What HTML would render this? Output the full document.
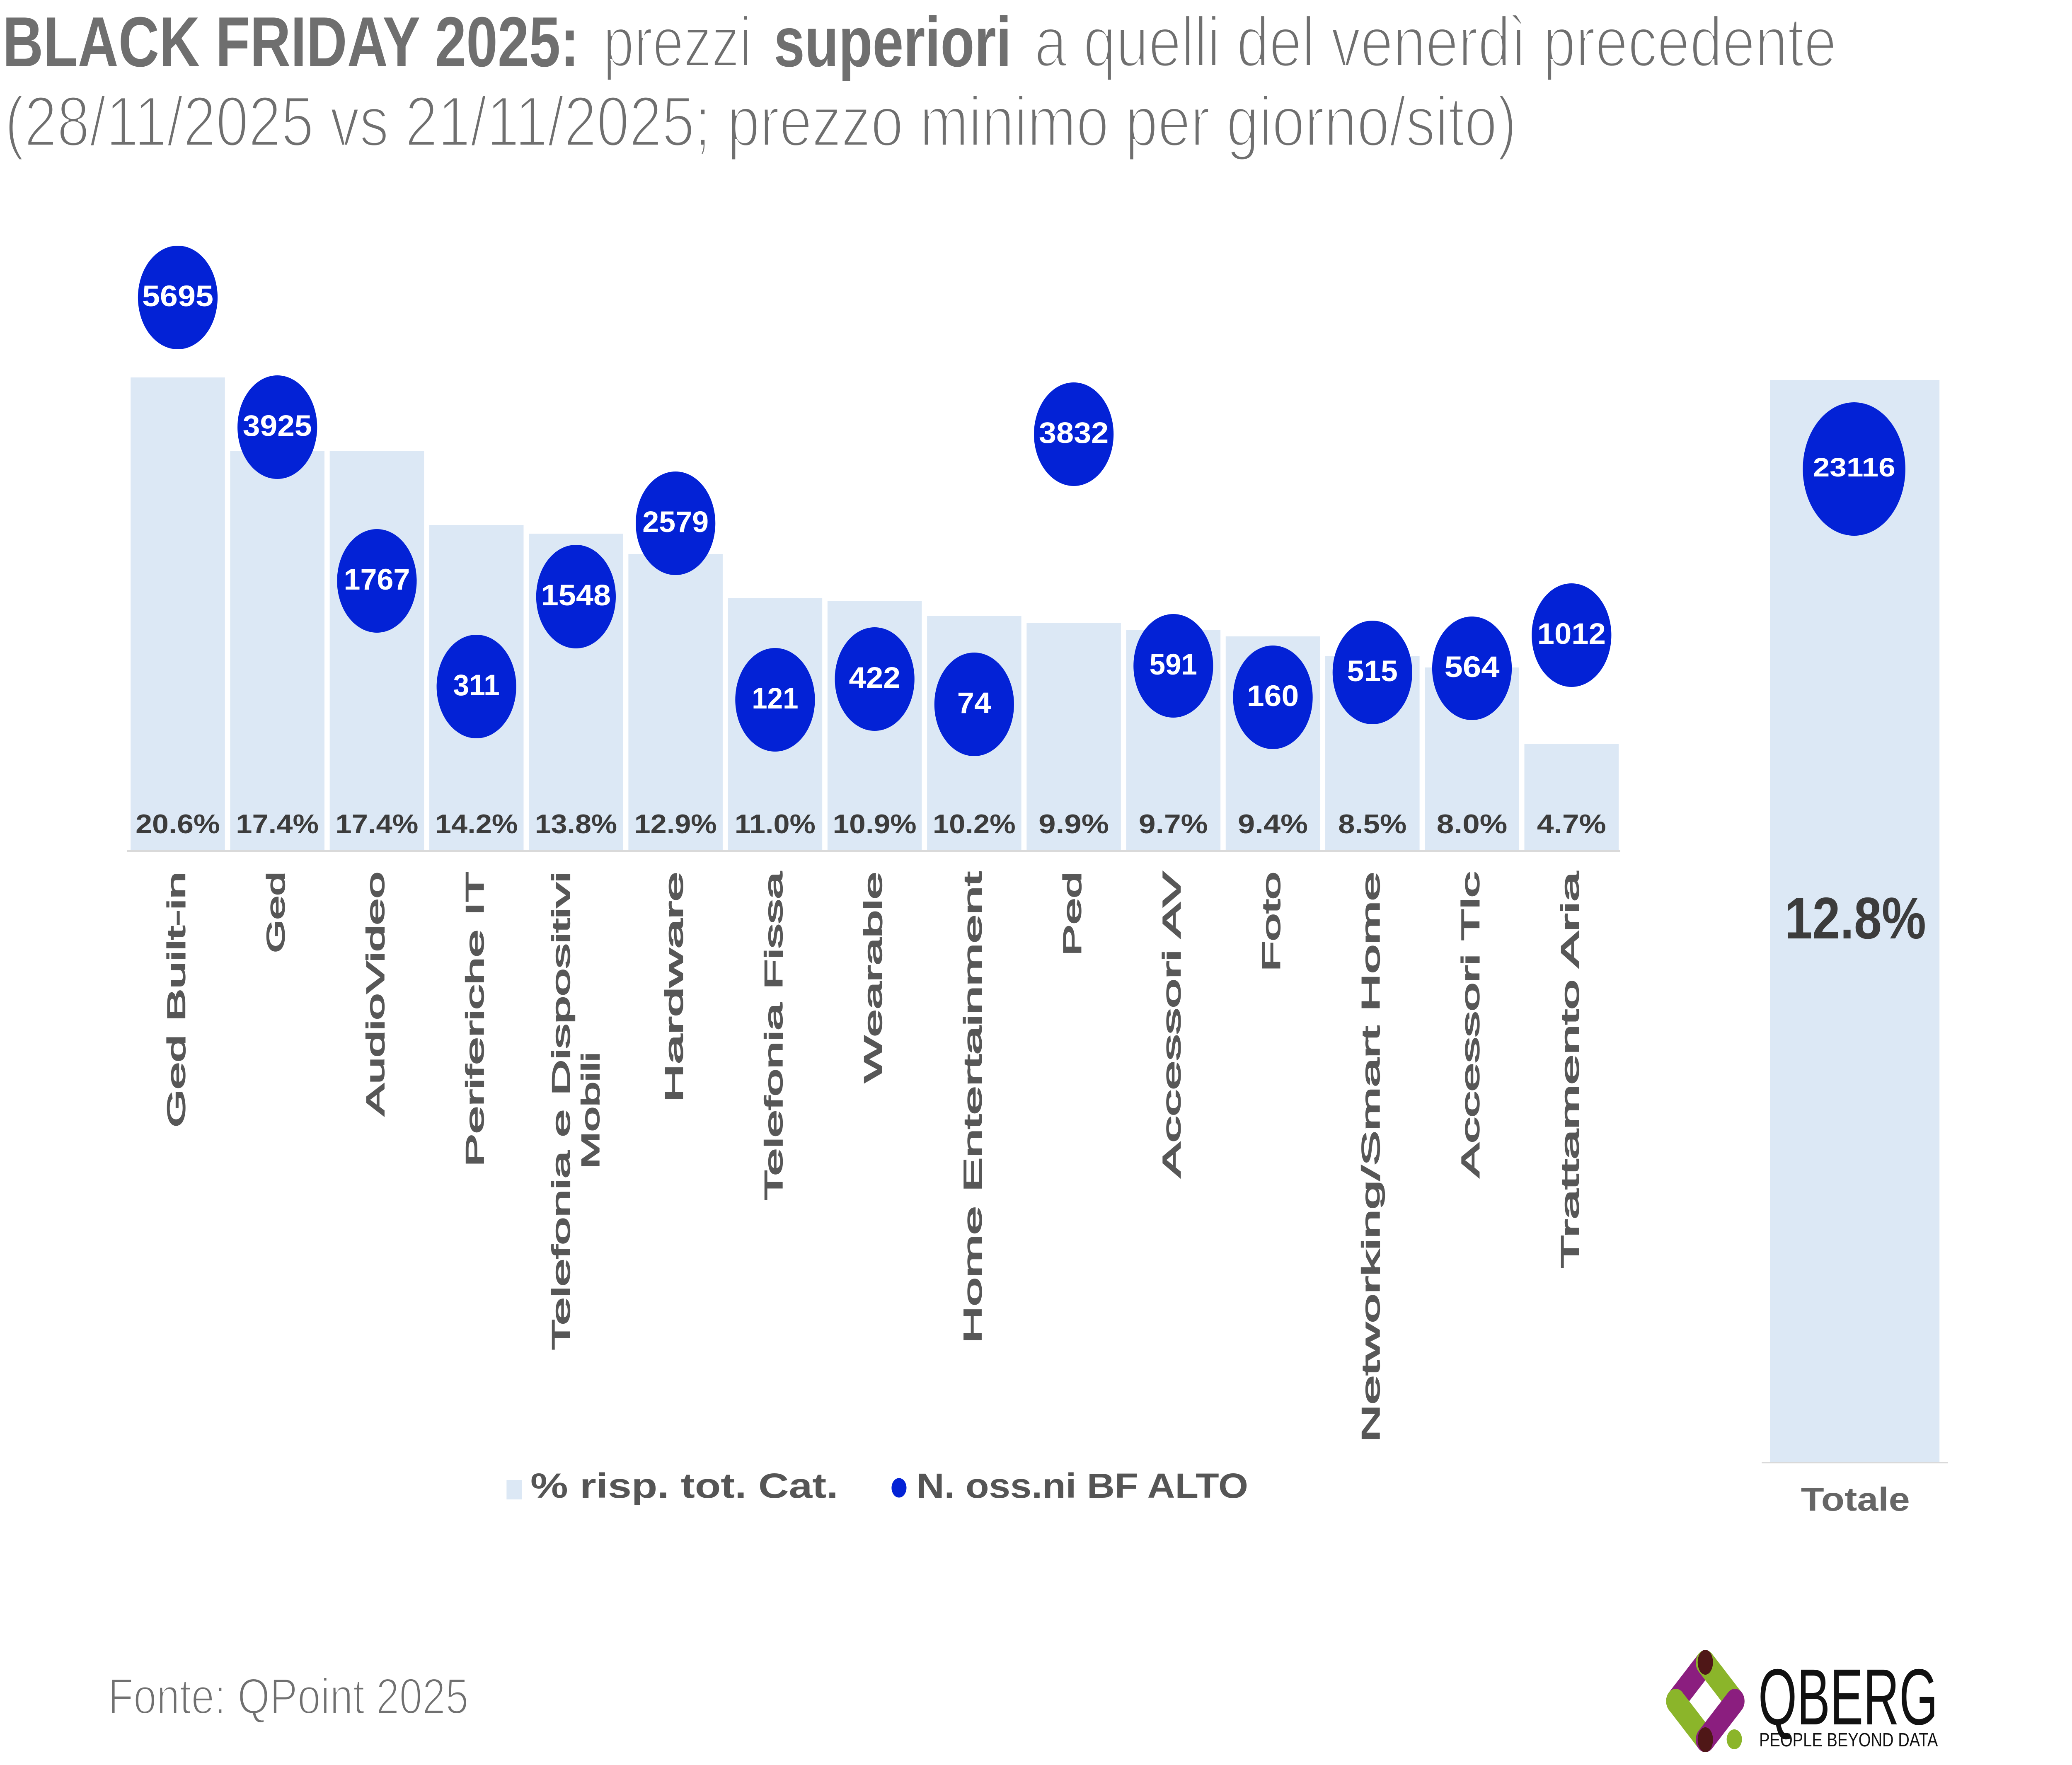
<!DOCTYPE html>
<html>
<head>
<meta charset="utf-8">
<style>
  html, body { margin: 0; padding: 0; background: #ffffff; overflow: hidden; width: 100%; height: 100%; }
  svg { display: block; width: 100vw; height: 100vh; }
</style>
</head>
<body>
<svg viewBox="0 0 6504 4260" preserveAspectRatio="none" xmlns="http://www.w3.org/2000/svg" font-family="'Liberation Sans', sans-serif">
  <rect x="0" y="0" width="6504" height="4260" fill="#ffffff"/>

  <!-- Title -->
  <g fill="#6f6f6f" font-size="171">
    <text x="8" y="160" font-weight="bold" textLength="1810" lengthAdjust="spacingAndGlyphs">BLACK FRIDAY 2025:</text>
    <text x="1893" y="160" stroke="#ffffff" stroke-width="6" textLength="467" lengthAdjust="spacingAndGlyphs">prezzi</text>
    <text x="2429" y="160" font-weight="bold" textLength="746" lengthAdjust="spacingAndGlyphs">superiori</text>
    <text x="3247" y="160" stroke="#ffffff" stroke-width="6" textLength="2518" lengthAdjust="spacingAndGlyphs">a quelli del venerdì precedente</text>
    <text x="15" y="352" stroke="#ffffff" stroke-width="6" textLength="4746" lengthAdjust="spacingAndGlyphs">(28/11/2025 vs 21/11/2025; prezzo minimo per giorno/sito)</text>
  </g>

  <!-- Bars -->
  <g fill="#dce8f5">
    <rect x="410" y="911" width="296" height="1140"/>
    <rect x="722.5" y="1089" width="296" height="962"/>
    <rect x="1035" y="1089" width="296" height="962"/>
    <rect x="1347.5" y="1267" width="296" height="784"/>
    <rect x="1660" y="1288" width="296" height="763"/>
    <rect x="1972.5" y="1337" width="296" height="714"/>
    <rect x="2285" y="1444" width="296" height="607"/>
    <rect x="2597.5" y="1450" width="296" height="601"/>
    <rect x="2910" y="1487" width="296" height="564"/>
    <rect x="3222.5" y="1504" width="296" height="547"/>
    <rect x="3535" y="1520" width="296" height="531"/>
    <rect x="3847.5" y="1536" width="296" height="515"/>
    <rect x="4160" y="1584" width="296" height="467"/>
    <rect x="4472.5" y="1611" width="296" height="440"/>
    <rect x="4785" y="1795" width="296" height="256"/>
    <!-- Totale -->
    <rect x="5556" y="917" width="532" height="2611"/>
  </g>

  <!-- Axis lines -->
  <rect x="399" y="2052" width="4687" height="5" fill="#d9d9d9"/>
  <rect x="5530" y="3528" width="585" height="4" fill="#d9d9d9"/>

  <!-- Percent labels -->
  <g fill="#3c3c3c" font-size="65" font-weight="bold">
    <text x="425.5" y="2011" textLength="265" lengthAdjust="spacingAndGlyphs">20.6%</text>
    <text x="740.5" y="2011" textLength="260" lengthAdjust="spacingAndGlyphs">17.4%</text>
    <text x="1053" y="2011" textLength="260" lengthAdjust="spacingAndGlyphs">17.4%</text>
    <text x="1365.5" y="2011" textLength="260" lengthAdjust="spacingAndGlyphs">14.2%</text>
    <text x="1679" y="2011" textLength="258" lengthAdjust="spacingAndGlyphs">13.8%</text>
    <text x="1991" y="2011" textLength="259" lengthAdjust="spacingAndGlyphs">12.9%</text>
    <text x="2306" y="2011" textLength="254" lengthAdjust="spacingAndGlyphs">11.0%</text>
    <text x="2614" y="2011" textLength="263" lengthAdjust="spacingAndGlyphs">10.9%</text>
    <text x="2928" y="2011" textLength="260" lengthAdjust="spacingAndGlyphs">10.2%</text>
    <text x="3260" y="2011" textLength="221" lengthAdjust="spacingAndGlyphs">9.9%</text>
    <text x="3574.5" y="2011" textLength="217" lengthAdjust="spacingAndGlyphs">9.7%</text>
    <text x="3885.5" y="2011" textLength="220" lengthAdjust="spacingAndGlyphs">9.4%</text>
    <text x="4200.5" y="2011" textLength="215" lengthAdjust="spacingAndGlyphs">8.5%</text>
    <text x="4509.5" y="2011" textLength="222" lengthAdjust="spacingAndGlyphs">8.0%</text>
    <text x="4824.5" y="2011" textLength="217" lengthAdjust="spacingAndGlyphs">4.7%</text>
  </g>

  <!-- Bubbles -->
  <g fill="#0322d6">
    <circle cx="558" cy="718" r="125"/>
    <circle cx="870.5" cy="1031" r="125"/>
    <circle cx="1183" cy="1402" r="125"/>
    <circle cx="1495.5" cy="1657" r="125"/>
    <circle cx="1808" cy="1440" r="125"/>
    <circle cx="2120.5" cy="1263" r="125"/>
    <circle cx="2433" cy="1689" r="125"/>
    <circle cx="2745.5" cy="1639" r="125"/>
    <circle cx="3058" cy="1700" r="125"/>
    <circle cx="3370.5" cy="1048" r="125"/>
    <circle cx="3683" cy="1607" r="125"/>
    <circle cx="3995.5" cy="1683" r="125"/>
    <circle cx="4308" cy="1623" r="125"/>
    <circle cx="4620.5" cy="1613" r="125"/>
    <circle cx="4933" cy="1533" r="125"/>
    <circle cx="5820" cy="1132" r="161"/>
  </g>

  <!-- Bubble numbers -->
  <g fill="#ffffff" font-size="71" font-weight="bold">
    <text x="446" y="739" textLength="224" lengthAdjust="spacingAndGlyphs">5695</text>
    <text x="762" y="1052" textLength="217" lengthAdjust="spacingAndGlyphs">3925</text>
    <text x="1079" y="1423" textLength="208" lengthAdjust="spacingAndGlyphs">1767</text>
    <text x="1422.5" y="1678" textLength="146" lengthAdjust="spacingAndGlyphs">311</text>
    <text x="1698.5" y="1461" textLength="219" lengthAdjust="spacingAndGlyphs">1548</text>
    <text x="2016.5" y="1284" textLength="208" lengthAdjust="spacingAndGlyphs">2579</text>
    <text x="2360" y="1710" textLength="146" lengthAdjust="spacingAndGlyphs">121</text>
    <text x="2664.5" y="1660" textLength="162" lengthAdjust="spacingAndGlyphs">422</text>
    <text x="3004.5" y="1721" textLength="107" lengthAdjust="spacingAndGlyphs">74</text>
    <text x="3261" y="1069" textLength="219" lengthAdjust="spacingAndGlyphs">3832</text>
    <text x="3608" y="1628" textLength="150" lengthAdjust="spacingAndGlyphs">591</text>
    <text x="3914" y="1704" textLength="163" lengthAdjust="spacingAndGlyphs">160</text>
    <text x="4228.5" y="1644" textLength="159" lengthAdjust="spacingAndGlyphs">515</text>
    <text x="4534" y="1634" textLength="173" lengthAdjust="spacingAndGlyphs">564</text>
    <text x="4825.5" y="1554" textLength="215" lengthAdjust="spacingAndGlyphs">1012</text>
    <text x="5690.5" y="1150" font-size="64" textLength="259" lengthAdjust="spacingAndGlyphs">23116</text>
  </g>

  <!-- Totale labels -->
  <text x="5602" y="2265" font-size="142" font-weight="bold" fill="#3c3c3c" textLength="444" lengthAdjust="spacingAndGlyphs">12.8%</text>
  <text x="5653" y="3646" font-size="80" font-weight="bold" fill="#666666" textLength="342" lengthAdjust="spacingAndGlyphs">Totale</text>

  <!-- Category labels (rotated) -->
  <g fill="#575757" stroke="#575757" stroke-width="3" font-size="78">
    <text transform="translate(580,2104) rotate(-90)" x="-617" y="0" textLength="617" lengthAdjust="spacingAndGlyphs">Ged Built-in</text>
    <text transform="translate(892.5,2104) rotate(-90)" x="-196" y="0" textLength="196" lengthAdjust="spacingAndGlyphs">Ged</text>
    <text transform="translate(1205,2104) rotate(-90)" x="-589" y="0" textLength="589" lengthAdjust="spacingAndGlyphs">AudioVideo</text>
    <text transform="translate(1517.5,2104) rotate(-90)" x="-712" y="0" textLength="712" lengthAdjust="spacingAndGlyphs">Periferiche IT</text>
    <text transform="translate(1788,2104) rotate(-90)" x="-1154" y="0" textLength="1154" lengthAdjust="spacingAndGlyphs">Telefonia e Dispositivi</text>
    <text transform="translate(1880,2680) rotate(-90)" x="-141" y="0" textLength="282" lengthAdjust="spacingAndGlyphs">Mobili</text>
    <text transform="translate(2142.5,2104) rotate(-90)" x="-557" y="0" textLength="557" lengthAdjust="spacingAndGlyphs">Hardware</text>
    <text transform="translate(2455,2104) rotate(-90)" x="-793" y="0" textLength="793" lengthAdjust="spacingAndGlyphs">Telefonia Fissa</text>
    <text transform="translate(2767.5,2104) rotate(-90)" x="-509" y="0" textLength="509" lengthAdjust="spacingAndGlyphs">Wearable</text>
    <text transform="translate(3080,2104) rotate(-90)" x="-1138" y="0" textLength="1138" lengthAdjust="spacingAndGlyphs">Home Entertainment</text>
    <text transform="translate(3392.5,2104) rotate(-90)" x="-203" y="0" textLength="203" lengthAdjust="spacingAndGlyphs">Ped</text>
    <text transform="translate(3705,2104) rotate(-90)" x="-738" y="0" textLength="738" lengthAdjust="spacingAndGlyphs">Accessori AV</text>
    <text transform="translate(4017.5,2104) rotate(-90)" x="-241" y="0" textLength="241" lengthAdjust="spacingAndGlyphs">Foto</text>
    <text transform="translate(4330,2104) rotate(-90)" x="-1377" y="0" textLength="1377" lengthAdjust="spacingAndGlyphs">Networking/Smart Home</text>
    <text transform="translate(4642.5,2104) rotate(-90)" x="-738" y="0" textLength="738" lengthAdjust="spacingAndGlyphs">Accessori Tlc</text>
    <text transform="translate(4955,2104) rotate(-90)" x="-957" y="0" textLength="957" lengthAdjust="spacingAndGlyphs">Trattamento Aria</text>
  </g>

  <!-- Legend -->
  <rect x="1590" y="3572" width="48" height="47" fill="#dce8f5"/>
  <text x="1665" y="3615" font-size="84" font-weight="bold" fill="#555555" textLength="966" lengthAdjust="spacingAndGlyphs">% risp. tot. Cat.</text>
  <circle cx="2822" cy="3591" r="23.5" fill="#0322d6"/>
  <text x="2877" y="3615" font-size="84" font-weight="bold" fill="#555555" textLength="1041" lengthAdjust="spacingAndGlyphs">N. oss.ni BF ALTO</text>

  <!-- Source -->
  <text x="339" y="4136" font-size="122" fill="#707070" stroke="#ffffff" stroke-width="4" textLength="1132" lengthAdjust="spacingAndGlyphs">Fonte: QPoint 2025</text>

  <!-- Logo icon -->
  <g stroke-width="60" stroke-linecap="round" fill="none">
    <line x1="5353" y1="4013" x2="5260" y2="4106" stroke="#8b1e7f"/>
    <line x1="5353" y1="4013" x2="5446" y2="4106" stroke="#8bb52a"/>
    <line x1="5260" y1="4106" x2="5353" y2="4199" stroke="#8bb52a"/>
    <line x1="5446" y1="4106" x2="5353" y2="4199" stroke="#8b1e7f"/>
  </g>
  <ellipse cx="5353" cy="4012" rx="24" ry="30" fill="#4f1717"/>
  <ellipse cx="5353" cy="4199" rx="24" ry="30" fill="#4f1717"/>
  <circle cx="5444" cy="4198" r="24" fill="#8bb52a"/>

  <!-- Logo text -->
  <text x="5519" y="4162" font-size="192" fill="#111111" textLength="564" lengthAdjust="spacingAndGlyphs">QBERG</text>
  <text x="5522" y="4215" font-size="46" fill="#111111" textLength="561" lengthAdjust="spacingAndGlyphs">PEOPLE BEYOND DATA</text>
</svg>
</body>
</html>
